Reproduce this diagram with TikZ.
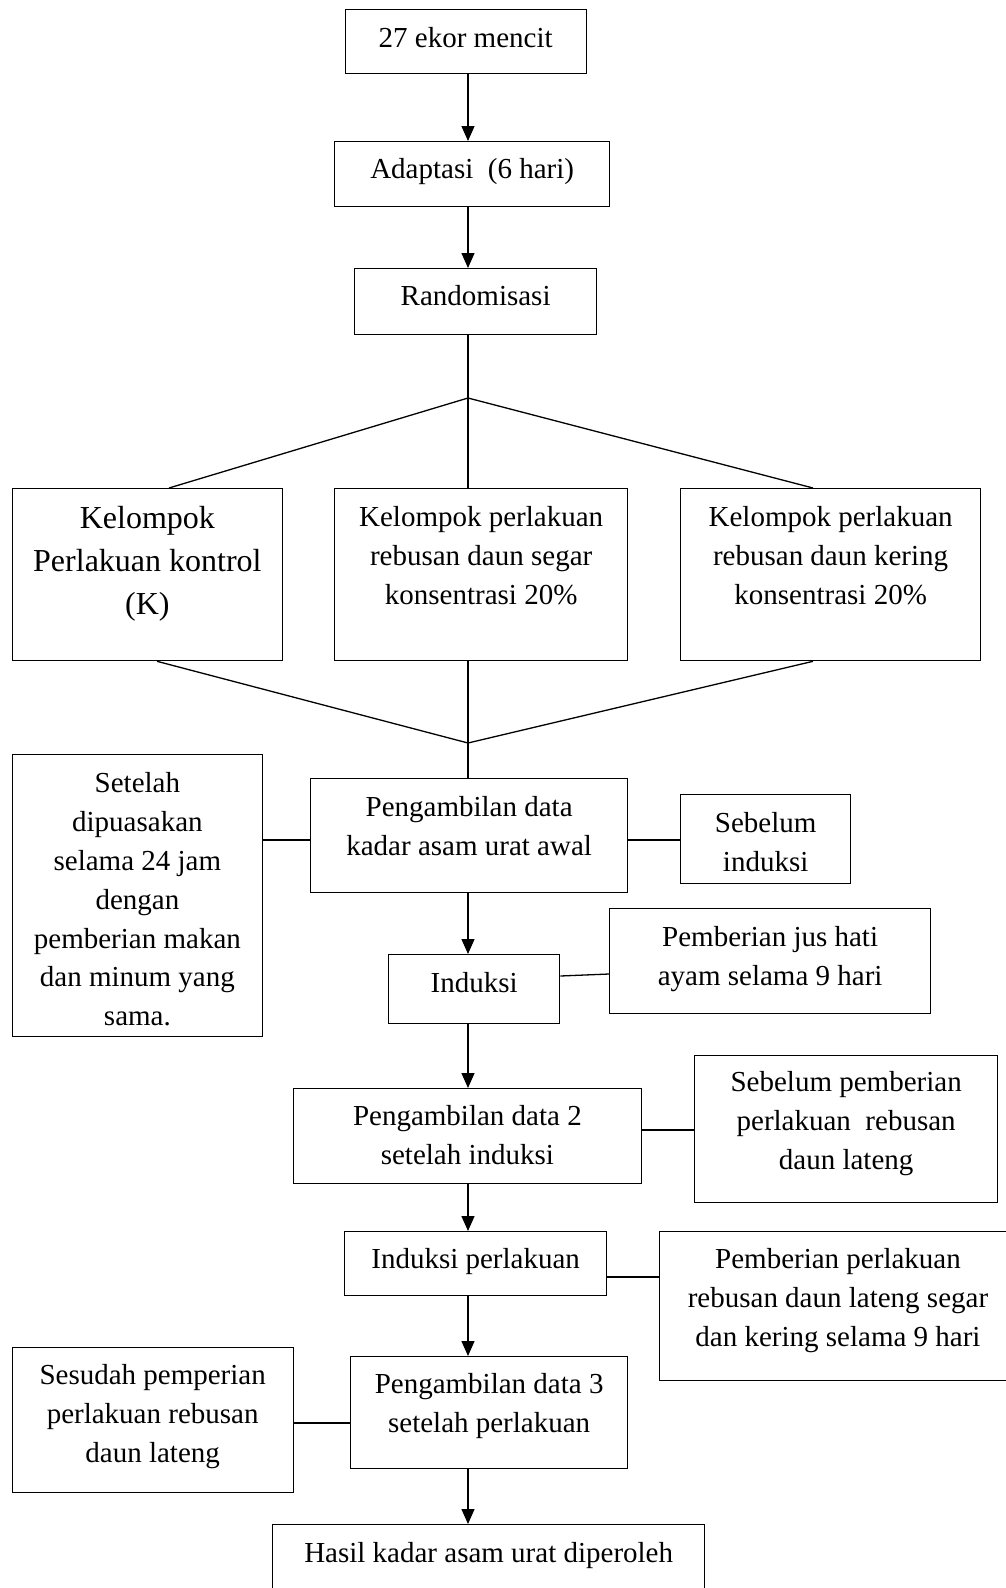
\documentclass[tikz,border=0pt]{standalone}
\usepackage{fontspec}
\setmainfont{Liberation Serif}
\usetikzlibrary{arrows.meta}
\tikzset{
  box/.style={draw, line width=1.3pt, inner sep=0pt, anchor=north west},
  txt/.style={inner sep=0pt, align=center, font=\fontsize{29}{39}\selectfont,
    execute at begin node=\strut, execute at end node=\strut},
  ln/.style={line width=1.3pt},
  arr/.style={line width=1.3pt, -{Triangle[length=15pt,width=13pt]}}
}
\begin{document}
\begin{tikzpicture}[x=1pt,y=-1pt]
\useasboundingbox (0,0) rectangle (1006,1588);
\clip (0,0) rectangle (1006,1588);
% boxes
\node[box, minimum width=241pt, minimum height=64pt] (b1) at (344.5,9) {};
\node[box, minimum width=275pt, minimum height=65pt] (b2) at (334,141) {};
\node[box, minimum width=242pt, minimum height=66pt] (b3) at (354,268) {};
\node[box, minimum width=270.5pt, minimum height=172pt] (gK) at (11.5,488) {};
\node[box, minimum width=293pt, minimum height=172pt] (gS) at (334,488) {};
\node[box, minimum width=300pt, minimum height=172pt] (gD) at (680,488) {};
\node[box, minimum width=250.5pt, minimum height=282pt] (set) at (11.5,754) {};
\node[box, minimum width=317pt, minimum height=114pt] (aw) at (310,778) {};
\node[box, minimum width=170pt, minimum height=89pt] (sbi) at (680,794) {};
\node[box, minimum width=171pt, minimum height=69pt] (ind) at (388,954) {};
\node[box, minimum width=321pt, minimum height=105pt] (jus) at (609,908) {};
\node[box, minimum width=348.5pt, minimum height=95pt] (d2) at (292.5,1088) {};
\node[box, minimum width=303pt, minimum height=147pt] (sbp) at (694,1055) {};
\node[box, minimum width=262pt, minimum height=64pt] (ip) at (344,1231) {};
\node[box, minimum width=360pt, minimum height=149pt] (pp) at (659,1231) {};
\node[box, minimum width=277pt, minimum height=112pt] (d3) at (350,1356) {};
\node[box, minimum width=281pt, minimum height=145pt] (ses) at (11.5,1347) {};
\node[box, minimum width=432pt, minimum height=90pt] (ha) at (272,1524) {};
% texts
\node[txt] (t1) at (b1.center |- 0,40) {27 ekor mencit};
\node[txt] (t2) at (b2.center |- 0,171) {Adaptasi\ \ (6 hari)};
\node[txt] (t3) at (b3.center |- 0,298) {Randomisasi};
\node[txt, font=\fontsize{32}{43}\selectfont] (tK) at (gK.center |- 0,567) {Kelompok\\Perlakuan kontrol\\(K)};
\node[txt] (tS) at (gS.center |- 0,561) {Kelompok perlakuan\\rebusan daun segar\\konsentrasi 20\%};
\node[txt] (tD) at (gD.center |- 0,561) {Kelompok perlakuan\\rebusan daun kering\\konsentrasi 20\%};
\node[txt, font=\fontsize{29}{38.8}\selectfont] (tset) at (set.center |- 0,905) {Setelah\\dipuasakan\\selama 24 jam\\dengan\\pemberian makan\\dan minum yang\\sama.};
\node[txt] (taw) at (aw.center |- 0,832) {Pengambilan data\\kadar asam urat awal};
\node[txt] (tsbi) at (sbi.center |- 0,848) {Sebelum\\induksi};
\node[txt] (tind) at (ind.center |- 0,985) {Induksi};
\node[txt] (tjus) at (jus.center |- 0,962) {Pemberian jus hati\\ayam selama 9 hari};
\node[txt] (td2) at (d2.center |- 0,1141) {Pengambilan data 2\\setelah induksi};
\node[txt] (tsbp) at (sbp.center |- 0,1126) {Sebelum pemberian\\perlakuan\ \ rebusan\\daun lateng};
\node[txt] (tip) at (ip.center |- 0,1261) {Induksi perlakuan};
\node[txt] (tpp) at (838,1303) {Pemberian perlakuan\\rebusan daun lateng segar\\dan kering selama 9 hari};
\node[txt] (td3) at (d3.center |- 0,1409) {Pengambilan data 3\\setelah perlakuan};
\node[txt] (tses) at (ses.center |- 0,1419) {Sesudah pemperian\\perlakuan rebusan\\daun lateng};
\node[txt] (tha) at (ha.center |- 0,1555) {Hasil kadar asam urat diperoleh};
% helper coordinates
\coordinate (sp) at (468,0);
\coordinate (split) at (468,398);
\coordinate (join) at (468,743);
\coordinate (kTop) at (169,0);
\coordinate (dTop) at (813,0);
\coordinate (kBot) at (157,0);
\coordinate (dBot) at (813,0);
\coordinate (yA) at (0,840);
\coordinate (yI1) at (0,976);
\coordinate (yI2) at (0,974);
\coordinate (yB) at (0,1130);
\coordinate (yC) at (0,1277);
\coordinate (yD) at (0,1423);
% main flow
\draw[arr] (b1.south -| sp) -- (b2.north -| sp);
\draw[arr] (b2.south -| sp) -- (b3.north -| sp);
\draw[ln] (b3.south -| sp) -- (split);
\draw[ln] (split) -- (gK.north -| kTop);
\draw[ln] (split) -- (gS.north -| sp);
\draw[ln] (split) -- (gD.north -| dTop);
\draw[ln] (gK.south -| kBot) -- (join);
\draw[ln] (gD.south -| dBot) -- (join);
\draw[ln] (gS.south -| sp) -- (aw.north -| sp);
\draw[arr] (aw.south -| sp) -- (ind.north -| sp);
\draw[arr] (ind.south -| sp) -- (d2.north -| sp);
\draw[arr] (d2.south -| sp) -- (ip.north -| sp);
\draw[arr] (ip.south -| sp) -- (d3.north -| sp);
\draw[arr] (d3.south -| sp) -- (ha.north -| sp);
% side links
\draw[ln] (set.east |- yA) -- (aw.west |- yA);
\draw[ln] (aw.east |- yA) -- (sbi.west |- yA);
\draw[ln] (ind.east |- yI1) -- (jus.west |- yI2);
\draw[ln] (d2.east |- yB) -- (sbp.west |- yB);
\draw[ln] (ip.east |- yC) -- (pp.west |- yC);
\draw[ln] (ses.east |- yD) -- (d3.west |- yD);
\end{tikzpicture}
\end{document}
